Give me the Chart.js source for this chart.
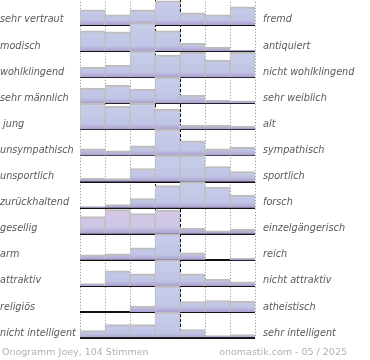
<!DOCTYPE html>
<html>
<head>
<meta charset="utf-8">
<script src="https://cdn.jsdelivr.net/npm/chart.js"></script>
<style>
    html, body { margin: 0; padding: 0; background: #fff; overflow: hidden; }
    #wrap { position: absolute; left: 0; top: -15px; width: 370px; height: 367px; }
    .foot { position: absolute; top: 346px; font: 9.5px "DejaVu Sans"; color: #b0b0b0; white-space: nowrap; }
</style>
</head>
<body>
<div id="wrap"><canvas id="chart"></canvas></div>
<div class="foot" style="left:2px">Onogramm Joey, 104 Stimmen</div>
<div class="foot" style="right:23px">onomastik.com - 05 / 2025</div>
<script>
// left / right poles of each scale, top row first
const leftLabels = ['sehr vertraut', 'modisch', 'wohlklingend', 'sehr männlich', ' jung', 'unsympathisch',
    'unsportlich', 'zurückhaltend', 'gesellig', 'arm', 'attraktiv', 'religiös', 'nicht intelligent'];
const rightLabels = ['fremd', 'antiquiert', 'nicht wohlklingend', 'sehr weiblich', 'alt', 'sympathisch',
    'sportlich', 'forsch', 'einzelgängerisch', 'reich', 'nicht attraktiv', 'atheistisch', 'sehr intelligent'];

// answer shares per column (7 steps), ROW_MAX fills one row band
const ROW_MAX = 26;
const vertraut     = [15, 10, 15, 24, 12, 10, 18];
const modisch      = [20, 19, 28, 20, 8, 4, 1];
const wohlklingend = [10, 12, 26, 22, 25, 17, 25];
const maennlich    = [15, 18, 14, 26, 8, 3, 2.5];
const jung         = [26, 23, 26, 20, 4, 4, 3];
const unsympath    = [6.5, 4.5, 9.5, 26, 14.5, 6.5, 8];
const unsportlich  = [3.5, 3, 13, 26, 26, 15, 10];
const zurueck      = [1, 3, 9, 22, 26, 20.5, 12.5];
const gesellig     = [17, 24, 20, 23.5, 5.5, 3, 4.5];
const arm          = [5, 6, 12, 26, 7, 0, 1.5];
const attraktiv    = [2.5, 15, 12, 26, 12, 6.5, 4];
const religioes    = [0, 0, 6, 26, 10.5, 11.5, 11];
const intelligent  = [7.5, 13.5, 13.5, 26, 8.5, 2.5, 3.5];

const rows = [vertraut, modisch, wohlklingend, maennlich, jung, unsympath, unsportlich,
    zurueck, gesellig, arm, attraktiv, religioes, intelligent];

const pinkRow = 8;            // 'gesellig' is tinted on its left half
const pinkCols = [0, 1, 2, 3];

const nRows = rows.length;
const baseOf = i => nRows - 1 - i;

function barFill(ctx, row) {
    const chart = ctx.chart;
    const y = chart.scales.y;
    if (!chart.chartArea || !y) return '#c5c9e7';
    const bottom = y.getPixelForValue(baseOf(row));
    const top = y.getPixelForValue(baseOf(row) + 1);
    const g = chart.ctx.createLinearGradient(0, top, 0, bottom);
    if (row === pinkRow && pinkCols.includes(ctx.dataIndex)) {
        g.addColorStop(0, '#dcc7e7');
        g.addColorStop(0.75, '#cbc6e6');
    } else {
        g.addColorStop(0, '#c8cdeb');
        g.addColorStop(0.8, '#c1c5e5');
    }
    g.addColorStop(1, '#ab9fd0');
    return g;
}

const datasets = rows.map((vals, i) => ({
    label: leftLabels[i],
    data: vals.map((v, c) => ({ x: c + 0.5, y: [baseOf(i), baseOf(i) + v / ROW_MAX] })),
    grouped: false,
    barPercentage: 1,
    categoryPercentage: 1,
    backgroundColor: ctx => barFill(ctx, i),
    borderColor: '#bdbdbd',
    borderWidth: { top: 2, left: 1, right: 1, bottom: 0 },
    order: nRows - i
}));

const rowTicks = scale => { scale.ticks = rows.map((_, i) => ({ value: baseOf(i) })); };
const labelFont = { family: 'DejaVu Sans', size: 9.7, style: 'italic' };

new Chart(document.getElementById('chart'), {
    type: 'bar',
    data: { datasets },
    options: {
        responsive: true,
        maintainAspectRatio: false,
        animation: false,
        layout: { padding: 0 },
        plugins: { legend: { display: false }, tooltip: { enabled: false } },
        scales: {
            x: {
                type: 'linear', min: 0, max: 7, offset: false,
                ticks: { display: false, stepSize: 1 },
                grid: { color: '#8a8a8a', drawTicks: false, offset: false },
                border: { display: false, dash: [1, 2] }
            },
            x2: {
                type: 'linear', position: 'top', min: 0, max: 7, offset: false, z: 1,
                afterBuildTicks: s => { s.ticks = [{ value: 3 }, { value: 4 }]; },
                ticks: { display: false },
                grid: { color: '#000', drawTicks: false, offset: false },
                border: { display: false, dash: [3, 2] }
            },
            y: {
                min: 0, max: nRows, z: 1,
                afterBuildTicks: rowTicks,
                afterFit: s => { s.width = 80; },
                ticks: {
                    autoSkip: false, crossAlign: 'far', labelOffset: -5,
                    color: '#5a5a5a', font: labelFont,
                    callback: v => leftLabels[baseOf(v)]
                },
                grid: { color: '#111', lineWidth: 2, drawTicks: false },
                border: { display: false }
            },
            yR: {
                position: 'right', min: 0, max: nRows,
                afterBuildTicks: rowTicks,
                afterFit: s => { s.width = 115; },
                ticks: {
                    autoSkip: false, padding: 8, labelOffset: -5,
                    color: '#5a5a5a', font: labelFont,
                    callback: v => rightLabels[baseOf(v)]
                },
                grid: { display: false, drawTicks: false },
                border: { display: false }
            }
        }
    }
});
</script>
</body>
</html>
